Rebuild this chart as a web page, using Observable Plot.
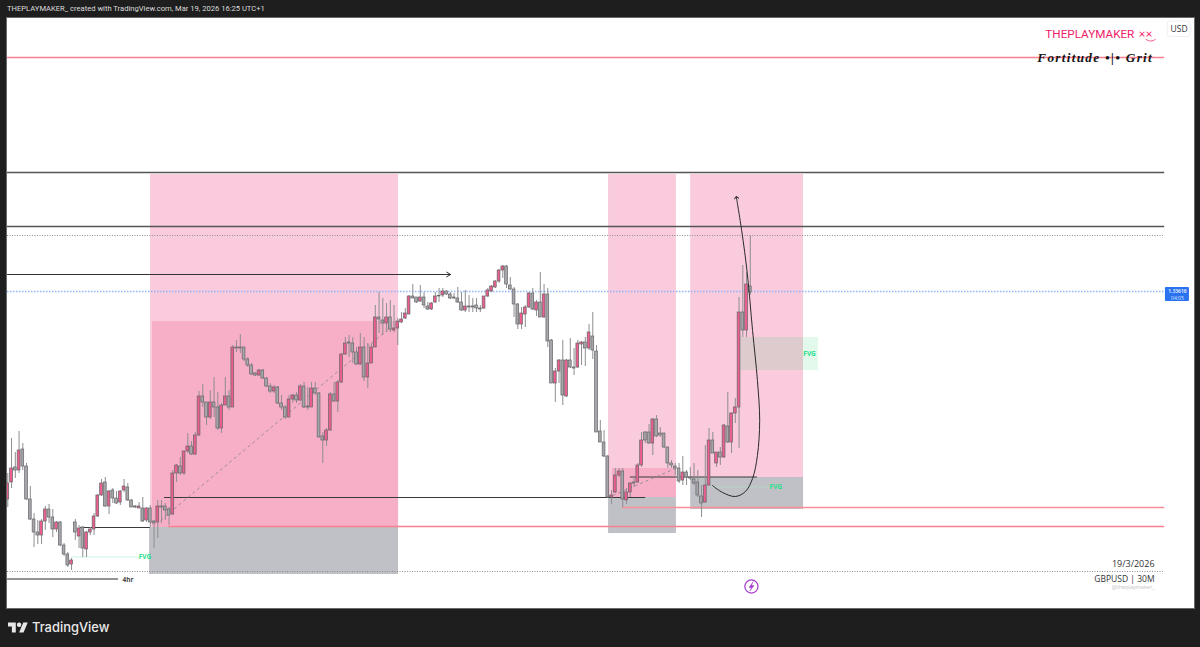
<!DOCTYPE html>
<html>
<head>
<meta charset="utf-8">
<script src="https://cdn.jsdelivr.net/npm/d3@7"></script>
<script src="https://cdn.jsdelivr.net/npm/@observablehq/plot@0.6"></script>
<style>
html,body{margin:0;padding:0;background:#1e1e1e;width:1200px;height:647px;overflow:hidden}
#head{position:absolute;left:7px;top:4px;color:#dcdcdc;font:7.6px Roboto,sans-serif;white-space:nowrap}
#chart{position:absolute;left:7px;top:18px;outline:1px solid #6a6a6a}
#chart svg{display:block}
#foot{position:absolute;left:8px;top:619px;display:flex;align-items:center;color:#e8e8e8;font:500 12.9px Inter,sans-serif}
#foot svg{margin-right:4px}
.fort{letter-spacing:1.32px}
</style>
</head>
<body>
<div id="head">THEPLAYMAKER_ created with TradingView.com, Mar 19, 2026 16:25 UTC+1</div>
<div id="chart"></div>
<div id="foot"><svg width="20" height="16" viewBox="0 0 36 28"><path fill="#e8e8e8" d="M14 24H7V13H0V6h14v18zM28 24h-8l7.5-18h8L28 24z"/><circle fill="#e8e8e8" cx="20" cy="10" r="4"/></svg>TradingView</div>
<script>
// Candles of GBPUSD 30M, in half-pip points above 1.32070
const open = [101,118,133,130,151,134,101,81,68,65,
79,91,83,71,78,55,46,36,78,64,
73,51,68,71,84,105,118,94,110,102,
98,110,113,100,94,92,92,80,92,79,
78,94,94,91,86,127,134,127,149,154,
146,165,204,198,183,198,193,172,195,204,
193,253,253,253,241,235,227,225,230,222,
214,209,213,197,193,183,201,205,200,214,
194,193,212,207,164,160,170,206,199,218,
246,258,257,248,236,253,223,237,253,283,
280,277,283,270,272,278,282,286,304,303,
299,303,294,291,298,304,305,309,306,303,
302,298,290,294,294,295,292,292,304,309,
313,319,330,334,315,311,296,276,286,293,
307,290,298,283,306,260,217,229,240,204,
240,233,233,256,258,252,264,249,169,158,
144,103,108,125,129,100,108,118,118,135,
168,168,157,181,167,167,153,137,134,132,
120,128,123,121,118,104,98,115,160,137,
148,143,174,158,187,193,288,270,314];
const high = [127,162,148,169,157,137,114,87,80,81,
94,96,91,79,79,57,48,42,81,75,
74,69,73,87,106,121,123,110,112,109,
110,121,117,101,95,98,103,93,95,80,
100,100,97,93,130,136,143,149,167,159,
168,209,216,198,210,223,208,197,223,210,
255,260,266,253,243,237,228,231,231,223,
217,215,214,205,195,205,206,208,216,218,
213,218,218,208,168,172,208,218,220,247,
263,265,263,253,267,263,257,257,295,308,
302,297,300,295,282,288,292,305,316,303,
315,308,298,298,308,312,312,310,308,307,
313,308,310,305,302,302,295,304,312,315,
320,331,335,335,323,313,297,293,295,308,
312,300,328,316,312,261,232,241,260,241,
262,252,260,259,263,276,288,255,180,170,
145,110,132,132,132,112,118,123,137,168,
169,176,182,185,173,167,153,140,137,137,
144,130,133,137,130,115,155,172,168,148,
153,176,208,188,202,303,335,328,365];
const low = [93,112,122,127,130,100,80,53,56,56,
70,77,63,68,54,44,33,30,60,52,
43,43,65,65,83,104,93,86,97,96,
95,108,99,93,92,92,78,78,73,52,
62,77,80,75,85,118,125,125,147,145,
145,164,193,175,181,183,170,167,195,190,
193,248,247,239,233,225,224,224,221,213,
207,207,196,190,181,183,197,197,199,192,
190,193,205,163,137,154,169,198,188,217,
245,243,237,235,235,219,212,237,253,267,
265,268,268,268,255,277,281,286,302,297,
298,292,290,290,297,298,303,305,301,301,
297,289,288,288,288,288,288,291,303,308,
312,317,322,312,310,283,271,271,273,292,
290,284,283,282,253,217,198,217,195,203,
232,225,232,235,234,250,241,168,158,143,
102,96,107,123,93,96,103,113,117,133,
157,156,145,163,163,152,132,132,125,117,
115,115,120,115,103,83,97,114,147,133,
135,142,157,147,177,152,263,263,305];
const close = [117,132,130,150,134,101,81,68,65,79,
91,83,71,78,55,46,35,40,68,72,
52,68,71,84,105,117,94,109,102,97,
109,114,100,93,93,94,79,92,78,77,
94,93,90,85,127,135,127,149,154,146,
165,204,198,183,198,193,172,195,204,193,
253,252,252,241,235,226,225,230,222,214,
209,213,197,193,183,201,205,200,214,193,
193,212,207,163,160,170,206,199,218,246,
257,257,248,236,253,223,237,253,283,281,
277,283,271,272,279,281,287,304,302,298,
303,295,291,297,304,304.5,309,306,302,302,
298,290,294,293,293,292,291,304,310,314,
319,330,334,316,311,296,276,287,293,307,
291,298,283,306,259,217,229,240,205,240,
233,232,257,258,252,268,250,168,158,144,
103,105,125,129,101,108,117,117,135,160,
160,157,181,164,165,153,137,135,132,119,
128,123,122,117,105,97,115,160,147,148,
143,175,158,187,193,288,270,316,308];

// Zones: [first bar, last bar, top, bottom]
const premiumZones = [[38.05,104.2,426,72],[160.2,178.3,426,102],[182.1,212.2,426,123]];
const deepZones = [[38.6,104.2,279,72],[161.2,178.3,132,103]];
const greyZones = [[37.8,104.2,73,26],[160.2,178.3,103,67],[182.1,212.2,123,91]];
const fvgZone = [[195.4,216.2,263,230]];

// Horizontal levels: [first bar, last bar, level]
const lastBar = 308.5, firstBar = -0.08;
const redLevels = [[firstBar,lastBar,543],[42.9,lastBar,74]];
const softRedLevels = [[163.9,lastBar,93]];
const blackLevels = [[firstBar,lastBar,428],[firstBar,lastBar,374]];
const thinBlackLevels = [[41.8,170.1,103],[19.4,38,73],[166,199.9,123.5]];
const dottedLevels = [[firstBar,lastBar,365],[firstBar,lastBar,29]];
const priceLevel = [[firstBar,308.7,309]];
const tfLevel = [[firstBar,29.5,21.5]];
const fvgLineLeft = [[17,35.4,43.5]];
const fvgLineRight = [[187.9,203.4,113.5]];
const arrowLevel = [[firstBar,118.1,326]];
const diagonals = [[40.7,80,102,273],[161.3,105,178,132]];
const curveBars = [187.9,190.6,194,196.7,198.6,199.9,200.5,199.9,198.6,197.2,195.7,194.3];
const curveLevels = [115,108,104,109,122,145,180,220,270,327,370,403];
const smileBars = [303.5,304.8,306];
const smileLevels = [561,559.5,561];
const boltBars = [198.7,197.65,198.3,197.9,199,198.3,198.7];
const boltLevels = [18.5,13,13,9.5,15,15,18.5];

const price = p => 1.3207 + p / 20000;
const bars = open.map((o,i) => ({i, o:price(o), h:price(high[i]), l:price(low[i]), c:price(close[i]), up:close[i] >= o}));
const zones = a => a.map(([x1,x2,t,b]) => ({x1,x2,y1:price(t),y2:price(b)}));
const levels = a => a.map(([x1,x2,v]) => ({x1,x2,y:price(v)}));
const lbl = (t,x,v) => [{t,x,y:price(v)}];
const hl = (a,o) => Plot.ruleY(levels(a),{x1:"x1",x2:"x2",y:"y",...o});
const box = (a,fill,o={}) => Plot.rect(zones(a),{x1:"x1",x2:"x2",y1:"y1",y2:"y2",fill,...o});
const txt = (t,x,v,o) => Plot.text(lbl(t,x,v),{x:"x",y:"y",text:"t",...o});
const path = (xs,vs) => xs.map((x,i)=>({x,y:price(vs[i])}));

const chart = Plot.plot({
  width:1187, height:590, margin:0,
  style:{background:"#ffffff"},
  x:{axis:null, domain:[-0.08,316.45]},
  y:{axis:null, domain:[price(-8),price(582)]},
  marks:[
    box(premiumZones,"#f9cbdc"),
    box(deepZones,"#f7aec7"),
    box(greyZones,"#c0c1c6"),
    box(fvgZone,"rgb(21,205,97)",{fillOpacity:.12}),
    hl(redLevels,{stroke:"#f8808f",strokeWidth:1.6}),
    hl(softRedLevels,{stroke:"#f88f9b",strokeWidth:1.6}),
    hl(blackLevels,{stroke:"#555",strokeWidth:1.4}),
    hl(thinBlackLevels,{stroke:"#3a3a3a",strokeWidth:1}),
    hl(dottedLevels,{stroke:"#8c8c8c",strokeWidth:1,strokeDasharray:"1,1.5"}),
    hl(priceLevel,{stroke:"#8fb4fa",strokeWidth:1.6,strokeDasharray:"1.5,1.5"}),
    hl(tfLevel,{stroke:"#707070",strokeWidth:1.4}),
    hl(fvgLineLeft,{stroke:"#dcf8e8",strokeWidth:1.6}),
    hl(fvgLineRight,{stroke:"#b4d8c6",strokeWidth:.8}),
    Plot.arrow(arrowLevel.map(([x1,x2,v])=>({x1,x2,y:price(v)})),{x1:"x1",x2:"x2",y1:"y",y2:"y",stroke:"#333",strokeWidth:1,headLength:7}),
    Plot.link(diagonals.map(([x1,a,x2,b])=>({x1,x2,y1:price(a),y2:price(b)})),{x1:"x1",x2:"x2",y1:"y1",y2:"y2",stroke:"#9b8f97",strokeWidth:1,strokeDasharray:"3,3"}),
    Plot.ruleX(bars,{x:"i",y1:"l",y2:"h",stroke:"#8e8e92",strokeWidth:1}),
    Plot.rect(bars,{x1:d=>d.i-.37,x2:d=>d.i+.37,y1:"o",y2:"c",fill:d=>d.up?"#ea5f8e":"#a6a6aa",stroke:"#66666a",strokeWidth:.7}),
    Plot.line(path(curveBars,curveLevels),{x:"x",y:"y",curve:"catmull-rom",stroke:"#2a2a2a",strokeWidth:1,markerEnd:"arrow"}),
    Plot.line(path(smileBars,smileLevels),{x:"x",y:"y",curve:"natural",stroke:"#ee2d74",strokeWidth:.8}),
    txt("THEPLAYMAKER",300.4,566,{textAnchor:"end",fill:"#ee2068",fontSize:11.7,fontWeight:400,fontFamily:"Roboto"}),
    txt("××",303.4,566,{fill:"#ee2068",fontSize:12,fontFamily:"Lato"}),
    txt("Fortitude •|• Grit",305.4,543,{textAnchor:"end",fill:"#141414",fontSize:13.2,fontFamily:"Liberation Serif",fontWeight:"bold",fontStyle:"italic",className:"fort"}),
    box([[309.3,315.4,579,563.5]],"#ffffff",{stroke:"#efefef",rx:3}),
    txt("USD",312.35,571,{fill:"#333",fontSize:8.5,fontFamily:"Open Sans"}),
    box([[308.7,315.1,313,299]],"#2a72f0",{rx:1}),
    txt("1.33616",311.9,309,{fill:"#fff",fontSize:5,fontWeight:600,fontFamily:"Open Sans"}),
    txt("04:05",311.9,302.5,{fill:"#dbe7ff",fontSize:5,fontFamily:"Open Sans"}),
    txt("FVG",36.6,43.5,{fill:"#27e08c",fontSize:6.5,fontWeight:700,fontFamily:"Open Sans"}),
    txt("FVG",204.8,113.5,{fill:"#27e08c",fontSize:6.5,fontWeight:700,fontFamily:"Open Sans"}),
    txt("FVG",213.8,247,{fill:"#27e08c",fontSize:6.5,fontWeight:700,fontFamily:"Open Sans"}),
    txt("4hr",30.6,21,{textAnchor:"start",fill:"#444",fontSize:6.5,fontWeight:700,fontFamily:"Open Sans"}),
    txt("19/3/2026",305.8,36,{textAnchor:"end",fill:"#333",fontSize:9,fontFamily:"Open Sans"}),
    txt("GBPUSD | 30M",305.8,21,{textAnchor:"end",fill:"#333",fontSize:8.5,fontFamily:"Open Sans"}),
    txt("@theplaymaker_",305.8,13.5,{textAnchor:"end",fill:"#c4c4c4",fontSize:5.5,fontFamily:"Open Sans"}),
    Plot.dot(lbl("",198.3,14),{x:"x",y:"y",r:6.6,stroke:"#a236c8",strokeWidth:1.2,fill:"#fff"}),
    Plot.line(path(boltBars,boltLevels),{x:"x",y:"y",fill:"#a236c8",stroke:"#a236c8",strokeWidth:.4})
  ]
});
document.getElementById("chart").append(chart);
</script>
</body>
</html>
